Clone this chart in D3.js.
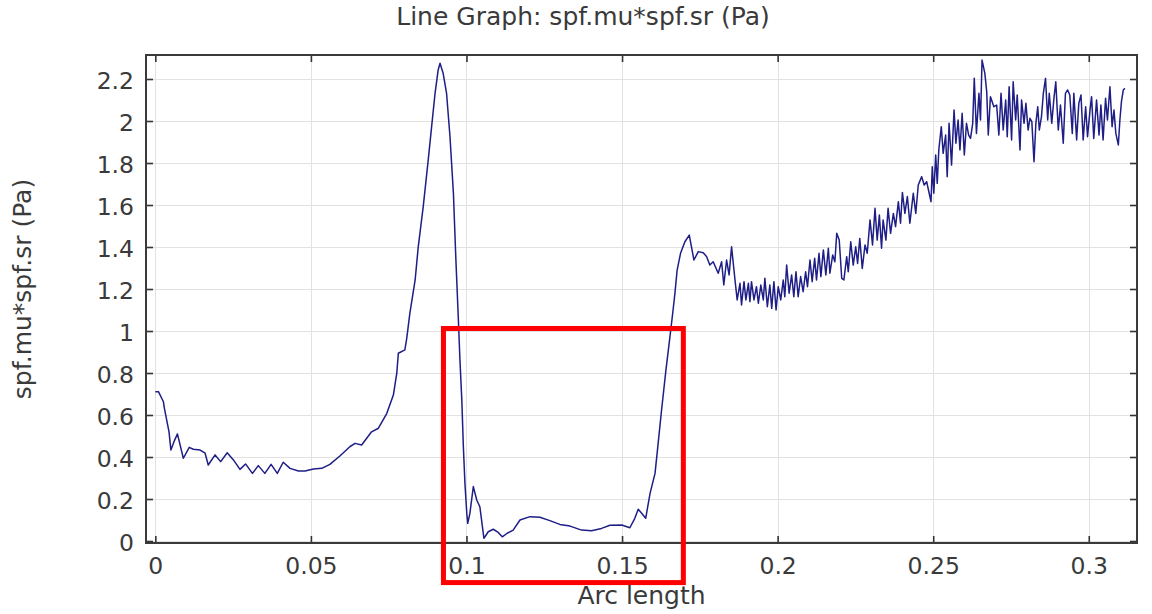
<!DOCTYPE html>
<html>
<head>
<meta charset="utf-8">
<script src="https://cdn.jsdelivr.net/npm/d3@7"></script>
<style>
  html, body { margin: 0; padding: 0; background: #ffffff; }
  svg { display: block; }
  text { font-family: "DejaVu Sans", "Verdana", sans-serif; fill: #3a3a3a; }
</style>
</head>
<body>
<svg id="chart" width="1152" height="614"></svg>
<script>
// Arc length along the boundary (m)
const arcLength = [
  0, .001, .0026, .0029, .0044, .005, .006, .0071, .009, .0109,
  .0122, .0144, .016, .017, .0192, .021, .0231, .0251, .0272, .029,
  .0312, .0331, .0352, .0372, .0392, .0411, .0433, .046, .0481, .0508,
  .0535, .0561, .0593, .0626, .0642, .0663, .0695, .0717, .0744, .0765,
  .0776, .0781, .0802, .0808, .0818, .0835, .0845, .0861, .0877, .0888,
  .0899, .0909, .0915, .0925, .0936, .0947, .0958, .0966, .0974, .0979,
  .0985, .099, .0995, .1001, .1004, .1011, .1022, .1033, .1043, .1056,
  .107, .1086, .1102, .1115, .1131, .115, .1172, .1204, .1236, .1268,
  .13, .1333, .137, .1402, .1434, .1461, .1499, .1525, .1541, .1552,
  .1563, .1576, .159, .1606, .1616, .1627, .1641, .1654, .1664, .167,
  .1677, .1688, .1702, .1716, .1724, .1731, .1745, .1761, .1772, .1782,
  .1793, .1809, .182, .1827, .1836, .1844, .1852, .1863,
  .1870, .1879, .1884, .1892, .1898, .1906, .1911, .1916, .1924, .1932,
  .1938, .1946, .1954, .1959, .1967, .1975, .1981, .1988, .1995, .2002,
  .2010, .2018, .2023, .2029, .2037, .2045, .2052, .2059, .2066, .2074,
  .2082, .2090, .2096, .2104, .2111, .2119, .2125, .2133, .2139, .2147,
  .2155, .2163, .2168, .2177, .2184, .2190, .2198, .2206, .2213, .2222,
  .2227, .2235, .2243, .2251, .2257, .2264, .2272, .2281, .2288, .2297,
  .2305, .2313, .2320, .2327, .2334, .2339, .2348, .2355, .2363, .2372,
  .2379, .2388, .2395, .2401, .2409, .2417,
  .2425, .2436, .2444, .2452, .2463, .2471, .2479, .2487, .2493, .2497,
  .2502, .2508, .2513, .2518, .2526, .2532, .2540, .2545, .2551, .2559,
  .2567, .2573, .2580, .2586, .2593, .2600, .2607, .2614, .2620, .2627,
  .2632, .2639, .2647, .2652, .2657, .2666, .2672, .2677, .2684,
  .2695, .2704, .2711, .2718, .2725, .2733, .2738, .2744, .2752, .2757,
  .2765, .2770, .2779, .2784, .2792, .2798, .2805, .2811, .2817, .2824,
  .2830, .2836, .2841, .2848, .2854, .2861, .2868, .2873, .2881, .2888,
  .2894, .2902, .2909, .2918, .2925, .2932, .2939, .2947, .2952, .2961,
  .2968, .2975, .2982, .2990, .2996, .3004, .3009, .3016, .3025, .3033,
  .3039, .3046, .3054, .3060, .3068, .3075, .3081, .3087, .3095, .3100,
  .3105, .3111, .3116
];

// Wall shear stress spf.mu*spf.sr (Pa)
const shearStress = [
  .711, .711, .663, .633, .52, .433, .473, .51, .394, .446,
  .437, .433, .418, .362, .41, .378, .42, .386, .341, .367,
  .322, .359, .322, .365, .322, .375, .346, .333, .333, .343,
  .346, .365, .405, .45, .465, .457, .52, .537, .608, .695,
  .799, .894, .91, .965, 1.084, 1.243, 1.401, 1.592, 1.814, 1.973,
  2.132, 2.243, 2.275, 2.227, 2.132, 1.925, 1.656, 1.338, 1.052, .862,
  .671, .449, .275, .132, .084, .132, .259, .195, .163, .013,
  .044, .056, .041, .02, .037, .052, .1, .116, .113, .097,
  .079, .071, .052, .049, .06, .075, .076, .063, .108, .151,
  .132, .108, .227, .322, .465, .624, .814, .973, 1.1, 1.18,
  1.29, 1.37, 1.425, 1.457, 1.394, 1.338, 1.378, 1.373, 1.354, 1.314,
  1.33, 1.275, 1.33, 1.219, 1.338, 1.267, 1.401, 1.243,
  1.148, 1.227, 1.124, 1.235, 1.148, 1.227, 1.14, 1.235, 1.148, 1.211,
  1.132, 1.219, 1.148, 1.251, 1.116, 1.219, 1.108, 1.235, 1.1, 1.211,
  1.148, 1.243, 1.163, 1.314, 1.18, 1.267, 1.163, 1.282, 1.163, 1.259,
  1.187, 1.282, 1.211, 1.338, 1.235, 1.346, 1.243, 1.37, 1.259, 1.386,
  1.267, 1.394, 1.275, 1.362, 1.33, 1.465, 1.433, 1.251, 1.243, 1.354,
  1.282, 1.425, 1.314, 1.401, 1.322, 1.441, 1.298, 1.41, 1.37, 1.529,
  1.41, 1.584, 1.433, 1.552, 1.394, 1.529, 1.433, 1.584, 1.465, 1.56,
  1.497, 1.616, 1.513, 1.66, 1.56, 1.64,
  1.513, 1.656, 1.56, 1.695, 1.735, 1.695, 1.711, 1.656, 1.616, 1.782,
  1.656, 1.838, 1.703, 1.862, 1.973, 1.846, 1.933, 1.735, 1.989, 1.79,
  2.052, 1.894, 2.005, 1.862, 2.037, 1.838, 1.989, 1.933, 1.917, 1.989,
  2.203, 1.941, 2.132, 2.005, 2.29, 2.227, 2.14, 1.933, 2.116,
  2.068, 2.076, 1.933, 2.132, 1.957, 2.1, 1.925, 2.163, 1.91, 2.187,
  2.005, 2.124, 1.862, 2.1, 1.989, 2.084, 1.957, 2.013, 1.997, 1.806,
  1.989, 2.068, 1.957, 2.021, 2.132, 2.203, 2.005, 2.132, 1.989, 2.108,
  2.187, 1.957, 2.076, 1.894, 2.132, 2.148, 2.124, 1.941, 2.132, 1.91,
  2.084, 2.124, 1.91, 2.068, 1.925, 2.052, 2.116, 1.917, 2.1, 1.933,
  2.076, 1.91, 2.108, 2.005, 2.163, 1.973, 2.052, 1.941, 1.886, 2.005,
  2.092, 2.148, 2.156
];

const xTicks = [0, 0.05, 0.1, 0.15, 0.2, 0.25, 0.3];
const xTickLabels = ["0", "0.05", "0.1", "0.15", "0.2", "0.25", "0.3"];
const yTicks = [0, 0.2, 0.4, 0.6, 0.8, 1, 1.2, 1.4, 1.6, 1.8, 2, 2.2];
const yTickLabels = ["0", "0.2", "0.4", "0.6", "0.8", "1", "1.2", "1.4", "1.6", "1.8", "2", "2.2"];

// Highlighted low-shear zone (arc length range, stress range)
const highlightArc = [0.0926, 0.1697];
const highlightStress = [-0.198, 1.012];

const titleText = "Line Graph: spf.mu*spf.sr (Pa)";
const xLabelText = "Arc length";
const yLabelText = "spf.mu*spf.sr (Pa)";

const plot = { left: 146, right: 1137, top: 55, bottom: 543 };

const svg = d3.select("#chart");

const x = d3.scaleLinear().domain([-0.003, 0.3155]).range([plot.left, plot.right]);
const y = d3.scaleLinear().domain([-0.0095, 2.3143]).range([plot.bottom, plot.top]);

// grid
const grid = svg.append("g").attr("stroke", "#e2e2e2").attr("stroke-width", 1);
grid.selectAll("line.gx").data(xTicks).join("line")
  .attr("x1", d => Math.round(x(d)) + 0.5).attr("x2", d => Math.round(x(d)) + 0.5)
  .attr("y1", plot.top).attr("y2", plot.bottom);
grid.selectAll("line.gy").data(yTicks).join("line")
  .attr("y1", d => Math.round(y(d)) + 0.5).attr("y2", d => Math.round(y(d)) + 0.5)
  .attr("x1", plot.left).attr("x2", plot.right);

// data line
const n = Math.min(arcLength.length, shearStress.length);
const line = d3.line()
  .x(i => x(arcLength[i]))
  .y(i => y(shearStress[i]));
svg.append("path")
  .attr("d", line(d3.range(n)))
  .attr("fill", "none")
  .attr("stroke", "#1e1e86")
  .attr("stroke-width", 1.5)
  .attr("stroke-linejoin", "round");

// axes with inward ticks on all four sides
const tickStyle = g => {
  g.select(".domain").remove();
  g.selectAll(".tick line").attr("stroke", "#333").attr("stroke-width", 1.6);
};

const gBottom = svg.append("g").attr("transform", `translate(0,${plot.bottom})`)
  .call(d3.axisBottom(x).tickValues(xTicks).tickFormat((d, i) => xTickLabels[i])
    .tickSizeInner(-7).tickSizeOuter(0))
  .call(tickStyle);
gBottom.selectAll(".tick text")
  .attr("y", 31).attr("dy", null)
  .attr("font-size", "23.5px").attr("font-family", "DejaVu Sans, sans-serif")
  .attr("fill", "#3a3a3a");

svg.append("g").attr("transform", `translate(0,${plot.top})`)
  .call(d3.axisTop(x).tickValues(xTicks).tickFormat("").tickSizeInner(-7).tickSizeOuter(0))
  .call(tickStyle);

const gLeft = svg.append("g").attr("transform", `translate(${plot.left},0)`)
  .call(d3.axisLeft(y).tickValues(yTicks).tickFormat((d, i) => yTickLabels[i])
    .tickSizeInner(-7).tickSizeOuter(0))
  .call(tickStyle);
gLeft.selectAll(".tick text")
  .attr("x", -12).attr("y", 9).attr("dy", null)
  .attr("font-size", "23.5px").attr("font-family", "DejaVu Sans, sans-serif")
  .attr("fill", "#3a3a3a");

svg.append("g").attr("transform", `translate(${plot.right},0)`)
  .call(d3.axisRight(y).tickValues(yTicks).tickFormat("").tickSizeInner(-7).tickSizeOuter(0))
  .call(tickStyle);

// frame
svg.append("rect")
  .attr("x", plot.left).attr("y", plot.top)
  .attr("width", plot.right - plot.left).attr("height", plot.bottom - plot.top)
  .attr("fill", "none").attr("stroke", "#3a3a3a").attr("stroke-width", 2);

// title and axis labels
svg.append("text")
  .attr("x", 583).attr("y", 25)
  .attr("text-anchor", "middle").attr("font-size", "25px")
  .text(titleText);

svg.append("text")
  .attr("x", (plot.left + plot.right) / 2).attr("y", 604)
  .attr("text-anchor", "middle").attr("font-size", "25px")
  .text(xLabelText);

svg.append("text")
  .attr("transform", "translate(31,289) rotate(-90)")
  .attr("text-anchor", "middle").attr("font-size", "25px")
  .text(yLabelText);

// highlight box
svg.append("rect")
  .attr("x", x(highlightArc[0])).attr("y", y(highlightStress[1]))
  .attr("width", x(highlightArc[1]) - x(highlightArc[0]))
  .attr("height", y(highlightStress[0]) - y(highlightStress[1]))
  .attr("fill", "none").attr("stroke", "#ff0000").attr("stroke-width", 5);
</script>
</body>
</html>
